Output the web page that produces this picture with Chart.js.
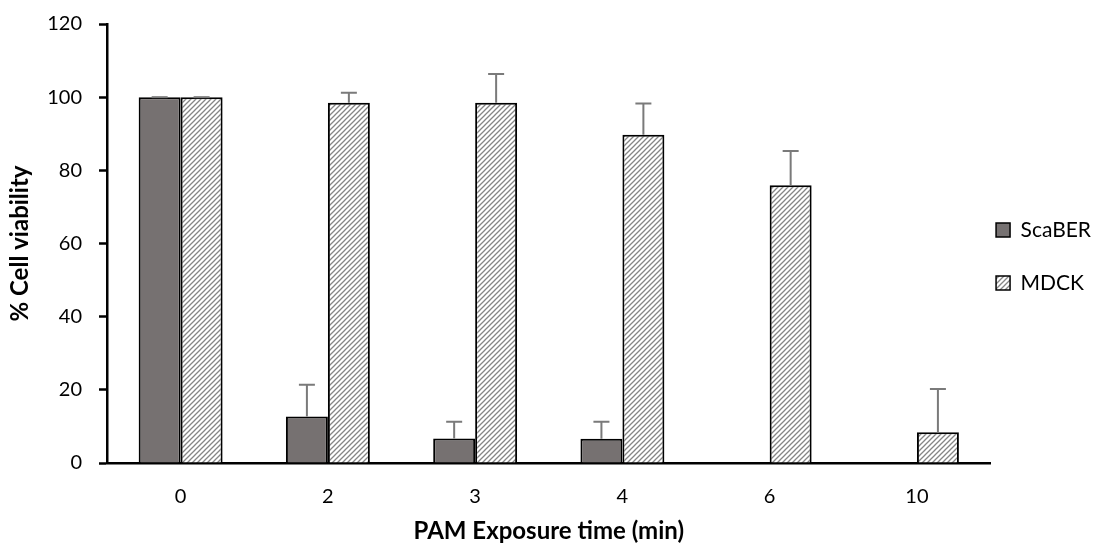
<!DOCTYPE html>
<html>
<head>
<meta charset="utf-8">
<script src="https://cdn.jsdelivr.net/npm/chart.js@4"></script>
<style>
  html, body { margin: 0; padding: 0; background: #fff; }
  canvas { display: block; }
</style>
</head>
<body>
<canvas id="viabilityChart" width="1099" height="548"></canvas>
<script>
const exposureTimes = ['0', '2', '3', '4', '6', '10'];
const scaberViability = [100, 12.7, 6.7, 6.6, 0, 0];
const scaberError = [0, 8.7, 4.6, 4.7, 0, 0];
const mdckViability = [100, 98.5, 98.5, 89.7, 75.9, 8.4];
const mdckError = [0, 2.7, 7.8, 8.6, 9.4, 11.8];
const yTicks = [0, 20, 40, 60, 80, 100, 120];

const fontFamily = 'Lato, "Open Sans", sans-serif';

// diagonal hatch fill used for MDCK
function makeHatch() {
    const c = document.createElement('canvas');
    c.width = 5; c.height = 5;
    const g = c.getContext('2d');
    g.fillStyle = '#fff';
    g.fillRect(0, 0, 5, 5);
    g.strokeStyle = '#858585';
    g.lineWidth = 1.3;
    g.beginPath();
    g.moveTo(-1, 6); g.lineTo(6, -1);
    g.moveTo(-1, 1); g.lineTo(1, -1);
    g.moveTo(4, 6); g.lineTo(6, 4);
    g.stroke();
    return g.createPattern(c, 'repeat');
}
const hatch = makeHatch();

const errorBars = {
    id: 'errorBars',
    afterDatasetsDraw(chart) {
        const ctx = chart.ctx;
        const yScale = chart.scales.y;
        chart.data.datasets.forEach((ds, di) => {
            const meta = chart.getDatasetMeta(di);
            meta.data.forEach((bar, i) => {
                const v = ds.data[i];
                const e = ds.errors[i];
                if (!v) return;
                const yTop = yScale.getPixelForValue(v + e);
                ctx.save();
                ctx.strokeStyle = '#7a7a7a';
                ctx.lineWidth = 2;
                ctx.beginPath();
                ctx.moveTo(bar.x, bar.y);
                ctx.lineTo(bar.x, yTop);
                ctx.moveTo(bar.x - 8, yTop);
                ctx.lineTo(bar.x + 8, yTop);
                ctx.stroke();
                ctx.restore();
            });
        });
    }
};

const ctx = document.getElementById('viabilityChart').getContext('2d');

new Chart(ctx, {
    type: 'bar',
    data: {
        labels: exposureTimes,
        datasets: [
            {
                label: 'ScaBER',
                data: scaberViability,
                errors: scaberError,
                backgroundColor: '#767171',
                borderColor: '#000',
                borderWidth: 2,
                borderSkipped: 'start'
            },
            {
                label: 'MDCK',
                data: mdckViability,
                errors: mdckError,
                backgroundColor: hatch,
                borderColor: '#000',
                borderWidth: 2,
                borderSkipped: 'start'
            }
        ]
    },
    plugins: [errorBars],
    options: {
        responsive: false,
        maintainAspectRatio: false,
        animation: false,
        devicePixelRatio: 1,
        layout: { padding: { top: 24, left: 0, right: -2, bottom: 0 } },
        datasets: {
            bar: { categoryPercentage: 0.57, barPercentage: 1.0 }
        },
        plugins: {
            tooltip: { enabled: false },
            legend: {
                position: 'right',
                align: 'start',
                title: {
                    display: true,
                    text: '',
                    font: { size: 10 },
                    padding: { top: 178, bottom: 0 }
                },
                labels: {
                    boxWidth: 14,
                    boxHeight: 14,
                    padding: 5.5,
                    color: '#000',
                    font: { family: fontFamily, size: 21 },
                    generateLabels(chart) {
                        const items = Chart.defaults.plugins.legend.labels.generateLabels(chart);
                        items.forEach(it => { it.lineWidth = 1.5; it.strokeStyle = '#000'; });
                        // blank spacer between the two entries
                        items.splice(1, 0, {
                            text: '', fillStyle: 'rgba(0,0,0,0)', strokeStyle: 'rgba(0,0,0,0)',
                            lineWidth: 0, hidden: false, datasetIndex: -1
                        });
                        return items;
                    }
                }
            }
        },
        scales: {
            x: {
                grid: { display: false, drawTicks: false },
                border: { display: true, color: '#000', width: 2.5 },
                ticks: {
                    color: '#000',
                    padding: 22,
                    font: { family: fontFamily, size: 20 }
                },
                title: {
                    display: true,
                    text: 'PAM Exposure time (min)',
                    color: '#000',
                    padding: { top: 0, bottom: 2 },
                    font: { family: fontFamily, size: 24, weight: 'bold' }
                },
                afterFit(scale) { scale.height = 85; }
            },
            y: {
                min: 0,
                max: 120,
                afterBuildTicks(scale) { scale.ticks = yTicks.map(v => ({ value: v })); },
                grid: {
                    drawOnChartArea: false,
                    drawTicks: true,
                    tickLength: 8,
                    tickWidth: 2.5,
                    color: '#000'
                },
                border: { display: true, color: '#000', width: 2.5 },
                ticks: {
                    color: '#000',
                    padding: 17,
                    font: { family: fontFamily, size: 20 }
                },
                title: {
                    display: true,
                    text: '% Cell viability',
                    color: '#000',
                    padding: { top: 6, bottom: 0 },
                    font: { family: fontFamily, size: 24, weight: 'bold' }
                },
                afterFit(scale) {
                    scale.width = 107;
                    scale.paddingTop = 0;
                }
            }
        }
    }
});
</script>
</body>
</html>
